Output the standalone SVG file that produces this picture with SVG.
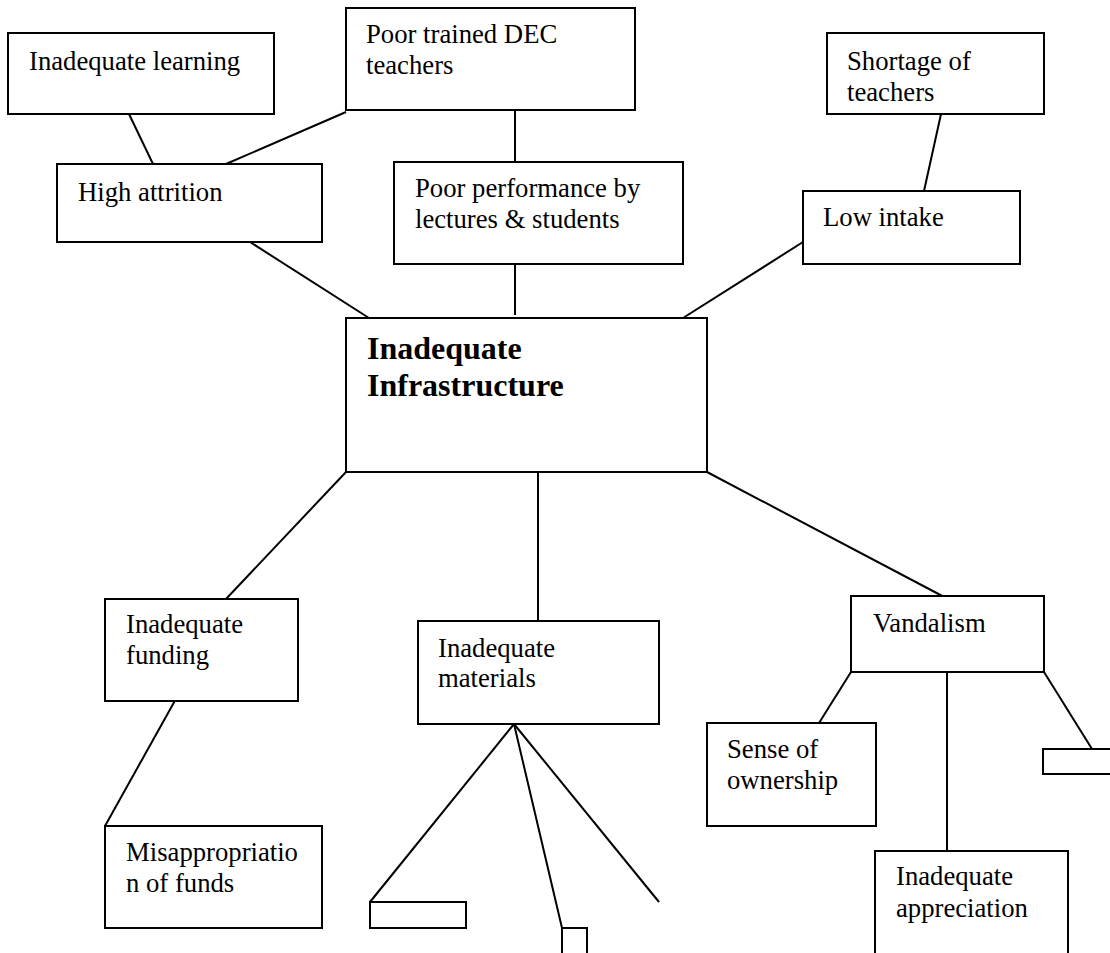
<svg xmlns="http://www.w3.org/2000/svg" width="1110" height="953" viewBox="0 0 1110 953">
<style>
.box{fill:#fff;stroke:#000;stroke-width:2}
.ln{stroke:#000;stroke-width:2;fill:none}
text{font-family:"Liberation Serif","Times New Roman",serif;font-size:26.7px;fill:#000}
.big{font-size:32px;font-weight:bold}
</style>
<rect width="1110" height="953" fill="#fff"/>
<g id="connectors">
<line class="ln" x1="129" y1="114" x2="153" y2="164"/>
<line class="ln" x1="346" y1="112" x2="226" y2="164"/>
<line class="ln" x1="515" y1="110" x2="515" y2="162"/>
<line class="ln" x1="250" y1="242" x2="369" y2="318"/>
<line class="ln" x1="515" y1="264" x2="515" y2="315"/>
<line class="ln" x1="941" y1="114" x2="924" y2="191"/>
<line class="ln" x1="803" y1="242" x2="683" y2="318"/>
<line class="ln" x1="346" y1="472" x2="226" y2="599"/>
<line class="ln" x1="538" y1="472" x2="538" y2="621"/>
<line class="ln" x1="707" y1="472" x2="948" y2="599"/>
<line class="ln" x1="177" y1="697" x2="105" y2="826"/>
<line class="ln" x1="514" y1="724" x2="370" y2="902"/>
<line class="ln" x1="514" y1="724" x2="562" y2="928"/>
<line class="ln" x1="514" y1="724" x2="659" y2="902"/>
<line class="ln" x1="851" y1="672" x2="819" y2="723"/>
<line class="ln" x1="947" y1="672" x2="947" y2="851"/>
<line class="ln" x1="1044" y1="672" x2="1092" y2="749"/>
</g>
<g id="n-inadequate-learning">
<rect class="box" x="8" y="33" width="266" height="81"/>
<text x="29" y="70">Inadequate learning</text>
</g>
<g id="n-poor-trained">
<rect class="box" x="346" y="8" width="289" height="102"/>
<text x="366" y="43">Poor trained DEC</text>
<text x="366" y="74">teachers</text>
</g>
<g id="n-high-attrition">
<rect class="box" x="57" y="164" width="265" height="78"/>
<text x="78" y="201">High attrition</text>
</g>
<g id="n-poor-performance">
<rect class="box" x="394" y="162" width="289" height="102"/>
<text x="415" y="197">Poor performance by</text>
<text x="415" y="228">lectures &amp; students</text>
</g>
<g id="n-shortage">
<rect class="box" x="827" y="33" width="217" height="81"/>
<text x="847" y="70">Shortage of</text>
<text x="847" y="101">teachers</text>
</g>
<g id="n-low-intake">
<rect class="box" x="803" y="191" width="217" height="73"/>
<text x="823" y="226">Low intake</text>
</g>
<g id="n-central">
<rect class="box" x="346" y="318" width="361" height="154"/>
<text class="big" x="367" y="359">Inadequate</text>
<text class="big" x="367" y="396">Infrastructure</text>
</g>
<g id="n-funding">
<rect class="box" x="105" y="599" width="193" height="102"/>
<text x="126" y="633">Inadequate</text>
<text x="126" y="664">funding</text>
</g>
<g id="n-materials">
<rect class="box" x="418" y="621" width="241" height="103"/>
<text x="438" y="657">Inadequate</text>
<text x="438" y="687">materials</text>
</g>
<g id="n-vandalism">
<rect class="box" x="851" y="596" width="193" height="76"/>
<text x="873" y="632">Vandalism</text>
</g>
<g id="n-misappropriation">
<rect class="box" x="105" y="826" width="217" height="102"/>
<text x="126" y="861">Misappropriatio</text>
<text x="126" y="892">n of funds</text>
</g>
<g id="n-sense">
<rect class="box" x="707" y="723" width="169" height="103"/>
<text x="727" y="758">Sense of</text>
<text x="727" y="789">ownership</text>
</g>
<g id="n-appreciation">
<rect class="box" x="875" y="851" width="193" height="120"/>
<text x="896" y="885">Inadequate</text>
<text x="896" y="917">appreciation</text>
</g>
<g id="n-empty-1">
<rect class="box" x="370" y="902" width="96" height="26"/>
</g>
<g id="n-empty-2">
<rect class="box" x="562" y="928" width="25" height="40"/>
</g>
<g id="n-empty-3">
<rect class="box" x="1043" y="749" width="80" height="25"/>
</g>
</svg>
